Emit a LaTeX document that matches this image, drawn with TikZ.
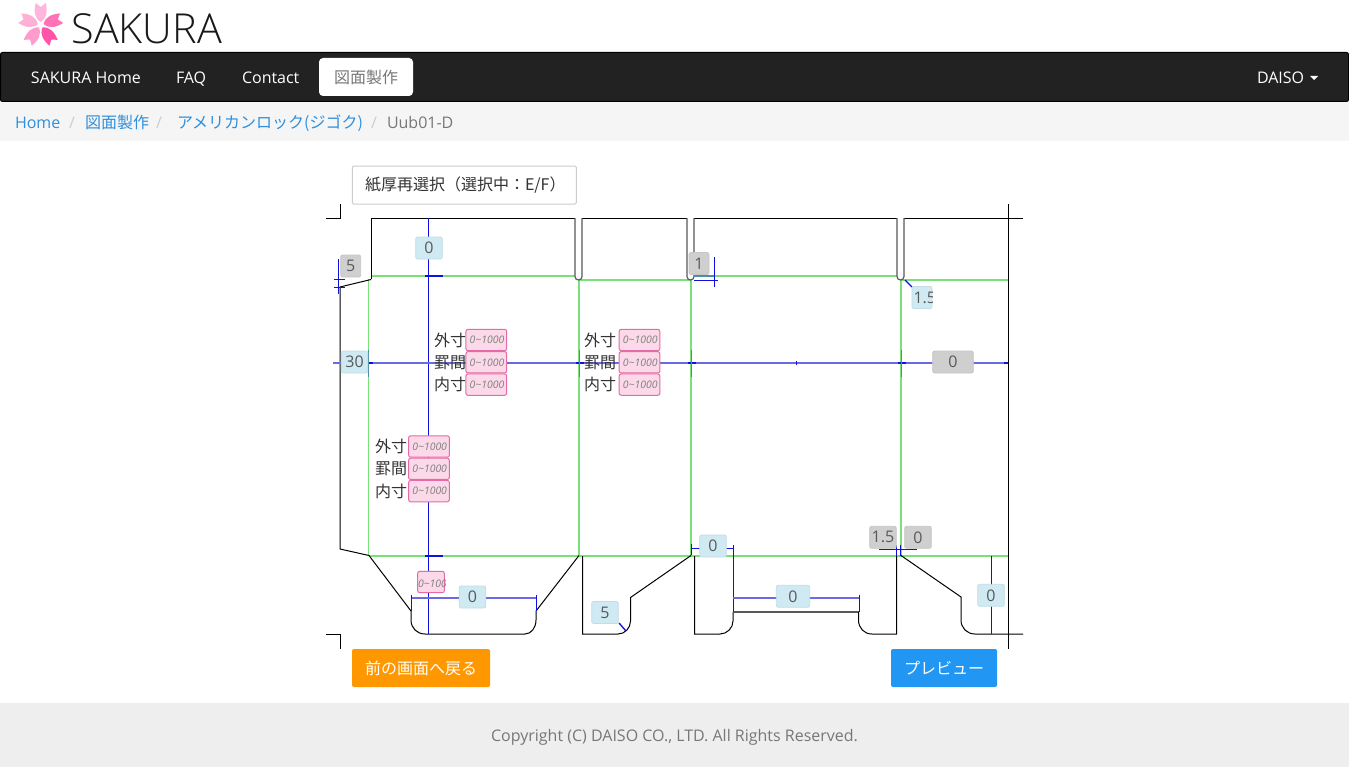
\documentclass[tikz,border=0pt]{standalone}
\usepackage{fontspec}
\setmainfont{Open Sans}
\newfontfamily\titlefont{Open Sans Light}
\newfontfamily\cjk{Noto Sans CJK JP}
\newcommand{\pxsize}[1]{\fontsize{#1}{#1}\selectfont}
\definecolor{navdark}{HTML}{222222}
\definecolor{crumbback}{HTML}{F5F5F5}
\definecolor{footback}{HTML}{EEEEEE}
\definecolor{linkblue}{HTML}{2F8FDC}
\definecolor{softgray}{HTML}{777777}
\definecolor{foldgreen}{HTML}{78E278}
\definecolor{dimblue}{HTML}{1010E0}
\definecolor{dimlight}{HTML}{6A6AE4}
\definecolor{pinkfill}{HTML}{FBD9E8}
\definecolor{pinkedge}{HTML}{E56BA8}
\definecolor{iceblue}{HTML}{D0EAF4}
\definecolor{iceedge}{HTML}{C4DCE4}
\definecolor{ashfill}{HTML}{CFCFCF}
\definecolor{ashedge}{HTML}{C6C6C6}
\definecolor{previewblue}{HTML}{2196F3}
\definecolor{backorange}{HTML}{FF9800}
\begin{document}
\begin{tikzpicture}[
	x = 0.75pt, y = -0.75pt,
	every node/.style = {inner sep=0pt, outer sep=0pt, font=\pxsize{12}},
	navtext/.style = {anchor=base west, text=white},
	crumb/.style = {anchor=base west, text=linkblue},
	crumbsep/.style = {anchor=base, text=black!20},
	button/.style = {rounded corners=1.5pt, minimum height=28.5pt, text=white},
	cut/.style = {black, line width=0.75pt},
	notch/.style = {black!65, line width=0.9pt, rounded corners=2.6pt},
	fold/.style = {foldgreen, line width=1.4pt},
	foldthin/.style = {foldgreen, line width=1pt},
	dim/.style = {dimblue, line width=1pt},
	dimsoft/.style = {dimlight, line width=1.4pt},
	dimtick/.style = {dimblue, line width=1.4pt},
	rowname/.style = {anchor=west, text=black!80},
	field/.style = {rounded corners=1.5pt, draw=pinkedge, fill=pinkfill, line width=0.75pt, minimum height=16pt},
	wide/.style = {field, minimum width=30.5pt, font=\pxsize{7.8}\itshape, text=black!50},
	ice/.style = {rounded corners=1.5pt, draw=iceedge, fill=iceblue, line width=0.6pt, minimum width=20pt, minimum height=16.5pt, text=black!65},
	ash/.style = {rounded corners=1.5pt, draw=ashedge, fill=ashfill, line width=0.6pt, minimum width=20pt, minimum height=16.5pt, text=black!65},
	]
	
	\useasboundingbox (0,0) rectangle (1349,767);
	
	% page bands
	\fill[white] (0,0) rectangle (1349,767);
	\fill[crumbback] (0,102) rectangle (1349,141);
	\fill[footback] (0,703) rectangle (1349,767);
	\draw[black, fill=navdark, rounded corners=1.5pt, line width=0.75pt] (0.5,52.5) rectangle (1348.5,101.5);
	
	% logo
	\foreach \ang/\col in {90/FFB6DC, 162/FFB0D5, 234/FF9CCB, 306/FF55A8, 18/FF72B6}{
		\definecolor{petal}{HTML}{\col}
		\fill[petal, shift={(40.7,25)}, rotate=\ang] (3,0) .. controls (7,-6.5) and (14,-7) .. (22,-5) -- (18,0) -- (22,5) .. controls (14,7) and (7,6.5) .. (3,0) -- cycle;
	}
	\node[anchor=base west, font=\pxsize{31}\titlefont, text=black!90] (title) at (71.5,43.5) {SAKURA};
	
	% navigation bar
	\node[navtext] (navhome) at (31,83.7) {SAKURA Home};
	\node[navtext] (navfaq) at (176,83.7) {FAQ};
	\node[navtext] (navcontact) at (242,83.7) {Contact};
	\node[fill=white, rounded corners=3pt, minimum width=70.5pt, minimum height=28.5pt, text=softgray, font=\pxsize{12}\cjk] (navdraw) at (366,77) {図面製作};
	\node[navtext] (navuser) at (1257,83.7) {DAISO};
	\fill[white] (1310,76) -- (1318,76) -- (1314,80) -- cycle;
	
	% breadcrumb
	\node[crumb] (home) at (15,128) {Home};
	\node[crumbsep] (sepa) at (72,128) {/};
	\node[crumb, font=\pxsize{12}\cjk] (draw) at (85,128.3) {図面製作};
	\node[crumbsep] (sepb) at (159,128) {/};
	\node[crumb, font=\pxsize{12}\cjk] (jig) at (177,128.3) {アメリカンロック(ジゴク)};
	\node[crumbsep] (sepc) at (374,128) {/};
	\node[anchor=base west, text=softgray] (model) at (387,128) {Uub01-D};
	
	% reselect button
	\node[draw=black!20, rounded corners=1pt, line width=0.75pt, minimum width=168pt, minimum height=28.5pt, text=black!80, font=\pxsize{12}\cjk] (paper) at (464.3,185) {\hspace{1.5pt}紙厚再選択（選択中：E/F）};
	
	% fold lines
	\draw[fold] (371,276) -- (575,276) (694,276) -- (897,276);
	\draw[fold] (579,280) -- (690,280) (901,280) -- (1008,280);
	\draw[fold] (369,556) -- (1008,556);
	\foreach \foldx in {368.7, 579, 691, 901}{
		\draw[foldthin] (\foldx,279) -- (\foldx,556);
	}
	
	% crop marks
	\draw[cut] (326,218) -- (340.5,218) -- (340.5,204);
	\draw[cut] (326,634) -- (340.5,634) -- (340.5,649);
	\draw[cut] (1008.5,204) -- (1008.5,649);
	
	% cut lines, top
	\draw[cut] (371,279) -- (371,218) -- (575,218);
	\draw[cut] (582,218) -- (687,218);
	\draw[cut] (694,218) -- (897,218);
	\draw[cut] (904,218) -- (1023,218);
	\foreach \notchx in {575, 687, 897}{
		\draw[notch] (\notchx,218) -- (\notchx,280) -- (\notchx+7,280) -- (\notchx+7,218);
	}
	
	% cut lines, left flap
	\draw[cut] (371,279.5) -- (340,287) -- (340,549) -- (369,555.5);
	
	% cut lines, bottom flaps
	\draw[cut] (369,555.5) -- (411,611) -- (411,620) .. controls (411,628) and (417,634) .. (425,634) -- (525,634) .. controls (531,634) and (536,628) .. (536,620) -- (536,611) -- (579,555.5);
	\draw[cut] (582.5,556) -- (582.5,634) -- (618,634) .. controls (625,634) and (630.5,628) .. (630.5,621) -- (630.5,597.5) -- (691,555.5);
	\draw[cut] (694.5,556) -- (694.5,634) -- (720,634) .. controls (727,634) and (733,628) .. (733,621) -- (733,612);
	\draw[notch, rounded corners=0pt] (733,612) -- (858.5,612);
	\draw[cut] (858.5,612) -- (858.5,620) .. controls (858.5,628) and (864,634) .. (872,634) -- (896.5,634) -- (896.5,556);
	\draw[cut] (901,555.5) -- (961,597) -- (961,620) .. controls (961,628) and (967,634) .. (975,634) -- (1023,634);
	
	% dimension lines
	\draw[dim] (428.5,218) -- (428.5,634);
	\draw[dimtick] (425,276) -- (443,276);
	\draw[dimtick] (425,556) -- (443,556);
	\draw[dim] (338.5,259) -- (338.5,294);
	\draw[dim] (334,279.5) -- (345,279.5) (334,287.5) -- (345,287.5);
	\draw[dimsoft] (333,363) -- (1008,363);
	\foreach \tickx in {368.5, 579.5, 691.5, 901.5}{
		\draw[dimtick] (\tickx-4,363) -- (\tickx+4,363);
		\draw[dimblue!40!foldgreen, line width=0.75pt] (\tickx,350) -- (\tickx,377);
	}
	\draw[dimtick] (1004,363) -- (1008,363);
	\draw[dim] (796.5,361) -- (796.5,365);
	\draw[dim] (714.5,257) -- (714.5,287);
	\draw[dimblue!40!foldgreen, line width=1.2pt] (694,276) -- (714,276);
	\draw[dim] (694,280.5) -- (718,280.5);
	\draw[dim] (905,280) -- (912,287);
	\draw[dimsoft] (411,598) -- (536,598);
	\draw[dim] (411.5,595) -- (411.5,611) (536.5,595) -- (536.5,611);
	\draw[dim] (619,623) -- (626,631);
	\draw[dim] (691,548.5) -- (733,548.5);
	\draw[dim] (691.5,544) -- (691.5,555) (733.5,545) -- (733.5,612);
	\draw[dimsoft] (733,598) -- (859,598);
	\draw[dim] (859.5,595) -- (859.5,612);
	\draw[dim] (879,549.5) -- (917,549.5);
	\draw[dimtick] (896.5,545) -- (896.5,556) (900.5,545) -- (900.5,556);
	\draw[dim] (991.5,556) -- (991.5,634);
	
	% size fields
	\foreach \namex/\fieldx/\topy/\col in {434/486.3/340/a, 584/639.5/340/b, 375/429/446.5/c}{
		\foreach \rowy/\rowname/\row in {0/外寸/outer, 22.3/罫間/rule, 44.6/内寸/inner}{
			\node[rowname, font=\pxsize{12}\cjk] (\col\row) at (\namex,\topy+\rowy) {\rowname};
			\node[wide] (\col\row field) at (\fieldx,\topy+\rowy) {\raisebox{-1.2pt}{\hspace{1pt}0\textasciitilde 1000}};
		}
	}
	
	% value labels
	\node[ash, minimum width=15pt] (flapgap) at (350.7,266) {5};
	\node[ice] (topgap) at (429,248) {0};
	\node[ice] (sidewidth) at (354.5,362) {30};
	\node[ash, minimum width=15pt] (notchgap) at (699,263.5) {1};
	\node[ash, minimum width=30.5pt] (bodyrest) at (953,362) {0};
	\node[ice] (tongue) at (472.5,597) {0};
	\node[ice] (corner) at (605,612.5) {5};
	\node[ice] (gapleft) at (713,546) {0};
	\node[ice, minimum width=25pt] (tuck) at (793,596.3) {0};
	\node[ash] (gapwide) at (883,537.3) {1.5};
	\node[ash] (gapzero) at (918,537.3) {0};
	\node[ice] (lastflap) at (991,595.3) {0};
	
	% labels cut off by their box
	\node[ice, minimum width=15pt] (cornerright) at (922,297.5) {};
	\begin{scope}
		\clip (911.7,286) rectangle (932,309);
		\node[anchor=west, text=black!65] (cornertext) at (913.5,298) {1.5};
	\end{scope}
	\node[field, minimum width=20pt] (smallfield) at (431,582) {};
	\begin{scope}
		\clip (417,571) rectangle (445,593);
		\node[anchor=west, font=\pxsize{7.8}\itshape, text=black!50] (smalltext) at (418,584) {0\textasciitilde 1000};
	\end{scope}
	
	% buttons
	\node[button, fill=backorange, minimum width=103.5pt, font=\pxsize{12}\cjk] (back) at (421,668) {前の画面へ戻る};
	\node[button, fill=previewblue, minimum width=79.5pt, font=\pxsize{12}\cjk] (preview) at (944,668) {プレビュー};
	
	% footer
	\node[anchor=base, text=softgray] (copyright) at (674.5,741) {Copyright (C) DAISO CO., LTD. All Rights Reserved.};
\end{tikzpicture}
\end{document}
